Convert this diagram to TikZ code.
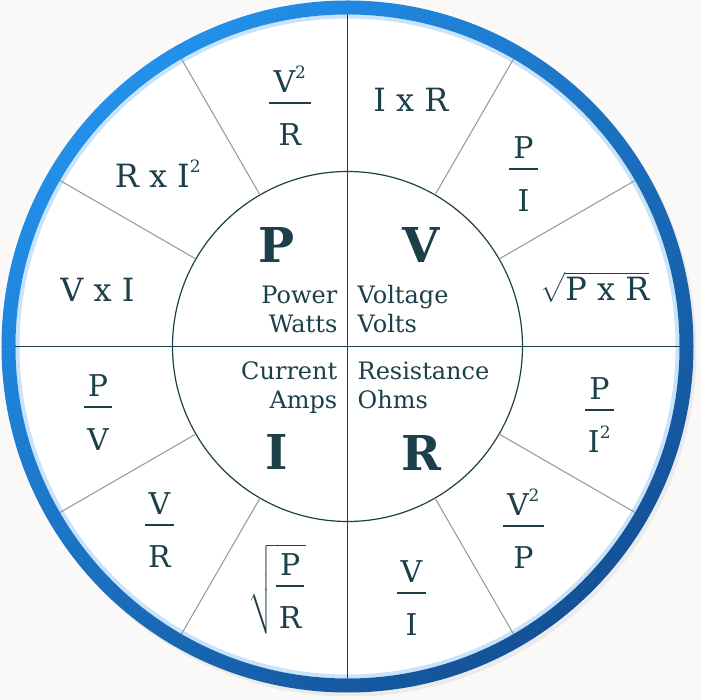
\documentclass[tikz,border=0pt]{standalone}
\usepackage{amsmath}
\usepackage{fontspec}
\setmainfont{DejaVu Serif}
\usepackage{tikz}
\usetikzlibrary{calc}
\definecolor{ohmink}{RGB}{28,64,74}
\definecolor{ohmringA}{RGB}{34,144,234}
\definecolor{ohmringB}{RGB}{20,82,152}
\definecolor{ohmspoke}{RGB}{150,150,150}
\definecolor{ohmpaper}{RGB}{251,249,248}
\newcommand{\sqd}{^{\text{\fontsize{17}{17}\selectfont 2}}}
\newcommand{\dnstrut}{\rule{0pt}{1.22em}}
\newcommand{\ohmfrac}[2]{\genfrac{}{}{1.8pt}{0}{\,#1\,}{#2\dnstrut}}
\tikzset{
  formula/.style={text=ohmink, font=\fontsize{32}{34}\selectfont, inner sep=0pt},
  fracform/.style={formula, font=\fontsize{30}{32}\selectfont},
  bigsym/.style={text=ohmink, font=\fontsize{48}{50}\selectfont\bfseries,
                 inner sep=0pt, anchor=base},
  unitlbl/.style={text=ohmink, font=\fontsize{24}{29}\selectfont, inner sep=0pt},
  leftlbl/.style={unitlbl, anchor=base east},
  rightlbl/.style={unitlbl, anchor=base west},
  spoke/.style={ohmspoke, line width=1pt},
  axisline/.style={ohmink, line width=1.6pt},
  hubline/.style={ohmink, line width=1.2pt},
  ringglow/.style={ohmringA!25, line width=4pt},
  ringshadow/.style={black!8, line width=10pt},
}
\begin{document}
\begin{tikzpicture}[x=1pt, y=1pt]
\useasboundingbox[fill=ohmpaper] (-347.5,-353.5) rectangle (353.5,346.5);
\coordinate (c) at (0,0);
% outer ring
\draw[ringshadow] (3,-4) circle[radius=341pt];
\fill[white] (c) circle[radius=336pt];
\draw[ringglow] (c) circle[radius=330pt];
\shade[even odd rule, top color=ohmringA, bottom color=ohmringB, shading angle=40]
  (c) circle[radius=346pt] (c) circle[radius=332pt];
% hub and dividers
\draw[hubline] (c) circle[radius=175pt];
\foreach \a in {30,60,120,150,210,240,300,330}
  \draw[spoke] (\a:175pt) -- (\a:332pt);
\draw[axisline] (90:332pt) -- (270:332pt);
\draw[axisline] (180:332pt) -- (0:332pt);
% hub letters
\node[bigsym] (symP) at (-70.5,83.5) {P};
\node[bigsym] (symV) at (73.5,83.5) {V};
\node[bigsym] (symI) at (-70.5,-123.5) {I};
\node[bigsym] (symR) at (74,-124.5) {R};
\node[leftlbl]  (power)   at (-10,42.5)  {Power};
\node[leftlbl]  (watts)   at (-10,13.5)  {Watts};
\node[rightlbl] (voltage) at (10,42.5)   {Voltage};
\node[rightlbl] (volts)   at (10,13.5)   {Volts};
\node[leftlbl]  (current) at (-10,-33.5) {Current};
\node[leftlbl]  (amps)    at (-10,-62.5) {Amps};
\node[rightlbl] (resist)  at (10,-33.5)  {Resistance};
\node[rightlbl] (ohms)    at (10,-62.5)  {Ohms};
% power formulas
\node[fracform] (pVVR) at (-57.5,240.5) {$\ohmfrac{\text{V}\sqd}{\text{R}}$};
\node[formula]  (pRII) at (-189.5,172.5) {$\text{R x I}\sqd$};
\node[formula]  (pVI)  at (-250,56.5)   {V x I};
% voltage formulas
\node[formula]  (vIR)  at (63.5,246.5)  {I x R};
\node[fracform] (vPI)  at (176,172.5)   {$\ohmfrac{\text{P}}{\text{I}}$};
\node[formula]  (vPR)  at (247.5,59.5)  {$\sqrt{\text{P x R}}$};
% current formulas
\node[fracform] (iPV)  at (-249.5,-66)  {$\ohmfrac{\text{P}}{\text{V}}$};
\node[fracform] (iVR)  at (-188,-183.5) {$\ohmfrac{\text{V}}{\text{R}}$};
\node[fracform] (iPR)  at (-70.5,-243)  {$\sqrt{\ohmfrac{\text{P}}{\text{R}}}$};
% resistance formulas
\node[fracform] (rVI)  at (64,-251.5)   {$\ohmfrac{\text{V}}{\text{I}}$};
\node[fracform] (rVVP) at (176,-182.5)  {$\ohmfrac{\text{V}\sqd}{\text{P}}$};
\node[fracform] (rPII) at (252,-68.5)   {$\ohmfrac{\text{P}}{\text{I}\sqd}$};
\end{tikzpicture}
\end{document}
